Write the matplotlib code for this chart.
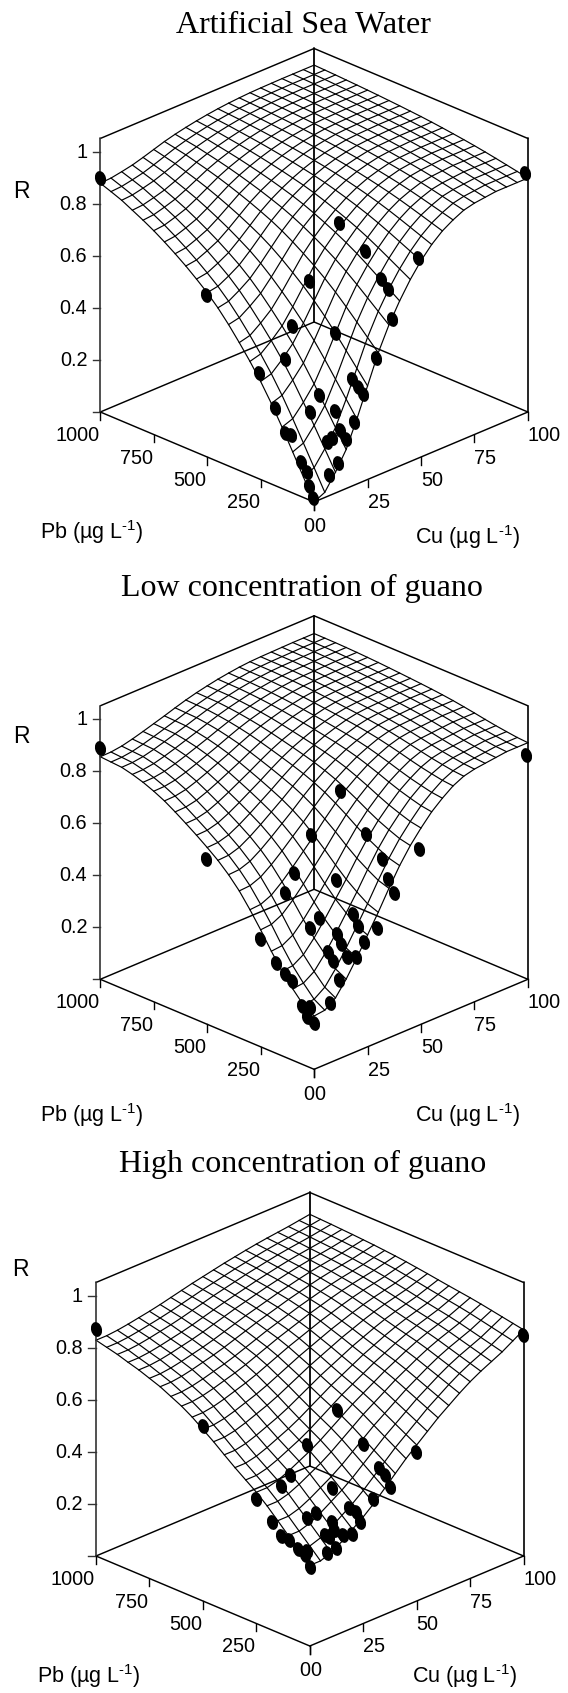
import numpy as np
import matplotlib
matplotlib.use("Agg")
import matplotlib.pyplot as plt
from matplotlib.path import Path
from matplotlib.transforms import Affine2D

plt.rcParams['font.family'] = ['Liberation Sans', 'DejaVu Sans']
plt.rcParams['mathtext.fontset'] = 'custom'
plt.rcParams['mathtext.rm'] = 'Liberation Sans'

titles = ['Artificial Sea Water', 'Low concentration of guano', 'High concentration of guano']
pb_ticks = [0, 250, 500, 750, 1000]
cu_ticks = [0, 25, 50, 75, 100]
r_ticks = [0.2, 0.4, 0.6, 0.8, 1]

# Surface edges at each of the 21 mesh lines:
# R along the Pb axis (Cu = 0) and along the Cu axis (Pb = 0)
mesh_frac = np.linspace(0, 1, 21)
pb_edge_sea = [0, .079, .158, .236, .310, .377, .437, .492, .544, .591, .632, .667, .700, .730, .758, .784, .807, .828, .849, .865, .880]
cu_edge_sea = [0, .02, .08, .15, .25, .36, .47, .56, .635, .70, .755, .80, .835, .86, .88, .89, .895, .90, .90, .90, .90]
pb_edge_low = [.205, .23, .275, .325, .385, .45, .51, .565, .61, .648, .68, .71, .738, .765, .79, .81, .827, .84, .85, .853, .856]
cu_edge_low = [.205, .21, .24, .295, .36, .43, .50, .575, .645, .705, .755, .80, .835, .865, .885, .895, .90, .905, .91, .91, .91]
pb_edge_high = [.31, .35, .39, .43, .47, .505, .535, .565, .597, .63, .66, .69, .715, .735, .755, .77, .785, .797, .81, .82, .83]
cu_edge_high = [.31, .31, .325, .35, .38, .41, .445, .485, .525, .565, .60, .635, .67, .70, .73, .757, .78, .80, .82, .845, .87]

# Measured points
pb_sea = [1000, 14, 310, 181, 12, 291, 86, 51, 505, 0, 275, 151, 245, 2, 268, 54, 29, 5, 127, 188, 125, 67, 4, 139, 128, 35, 9, 45, 53, 5, 74, 53, 10, 29, 7]
cu_sea = [0.0, 100.0, 42.7, 41.9, 49.9, 26.9, 40.0, 39.5, 0.0, 36.6, 17.3, 25.1, 10.7, 29.1, 1.2, 23.1, 23.3, 23.4, 14.8, 0.7, 10.7, 16.7, 19.2, 0.2, 2.1, 15.7, 16.0, 13.0, 11.2, 11.6, 1.5, 1.9, 8.1, 0.7, 0.0]
r_sea = [.901, .915, .819, .758, .763, .656, .688, .664, .621, .578, .523, .510, .427, .452, .401, .375, .353, .331, .316, .293, .267, .270, .240, .215, .205, .210, .182, .185, .173, .109, .122, .090, .071, .049, .012]

pb_low = [1000, 0, 311, 307, 159, 0, 69, 504, 288, 20, 176, 0, 275, 168, 76, 43, 173, 0, 252, 100, 2, 74, 97, 37, 8, 69, 178, 141, 118, 21, 2, 56, 32, 31, 0]
cu_low = [0.0, 99.1, 43.3, 29.1, 40.2, 49.2, 38.8, 0.0, 19.4, 36.6, 27.8, 37.4, 14.0, 19.2, 25.9, 25.0, 15.6, 29.2, 0.0, 20.5, 23.4, 20.0, 16.0, 19.0, 20.4, 15.7, 0.0, 0.5, 1.5, 13.6, 7.7, 0.0, 1.4, 0.0, 0.0]
r_low = [.891, .865, .813, .693, .709, .676, .651, .636, .587, .600, .571, .548, .533, .456, .480, .450, .429, .441, .413, .415, .408, .387, .364, .354, .360, .339, .346, .316, .295, .289, .227, .224, .223, .192, .177]

pb_high = [1000, 0, 277, 510, 271, 140, 0, 52, 25, 0, 237, 230, 124, 10, 250, 48, 26, 0, 108, 115, 176, 57, 133, 99, 0, 10, 39, 47, 36, 0, 6, 57, 40, 1, 32]
cu_high = [0.2, 99.5, 40.3, 1.2, 25.6, 38.7, 49.6, 37.6, 37.5, 37.6, 14.6, 9.7, 22.9, 30.6, 0.0, 23.2, 24.1, 23.7, 13.6, 10.3, 0.0, 16.2, 0.0, 0.0, 19.7, 16.5, 15.2, 11.7, 12.4, 12.2, 8.5, 0.0, 2.6, 0.0, 0.9]
r_high = [.871, .851, .672, .666, .591, .593, .576, .535, .519, .48, .524, .502, .484, .457, .48, .433, .422, .394, .426, .416, .416, .4, .377, .372, .362, .366, .38, .37, .365, .336, .325, .353, .342, .305, .336]

W, H = 568, 1693
UNIT = 213.8  # pixels from front corner to side corner
BASE = 90  # pixels the base climbs over one axis length
R_PX = 260  # pixels per R = 1
R_TOP = 1.052
PX = 0.72  # points per pixel at dpi 100
FS = 14.3

x_front = [314.1, 314.1, 309.8]
y_front = [502, 1069.3, 1646]
title_x = [303, 301.7, 302.8]
title_y = [33.3, 596, 1171.7]
r_label = [(21.6, 191.7), (21.6, 736.7), (20.5, 1270)]
pb_label = [(40, 531.7), (40, 1115), (36.7, 1676)]
cu_label = [(414.5, 537), (414.5, 1115), (412, 1676)]

pb_edges = [pb_edge_sea, pb_edge_low, pb_edge_high]
cu_edges = [cu_edge_sea, cu_edge_low, cu_edge_high]
pb_points = [pb_sea, pb_low, pb_high]
cu_points = [cu_sea, cu_low, cu_high]
r_points = [r_sea, r_low, r_high]


def project(pb, cu, r):
    pb = np.asarray(pb, float) / 1000
    cu = np.asarray(cu, float) / 100
    r = np.asarray(r, float)
    return cu - pb, ((cu + pb) * BASE + r * R_PX) / UNIT


def line3d(ax, a, b, **kw):
    lx, ly = project([a[0], b[0]], [a[1], b[1]], [a[2], b[2]])
    ax.plot(lx, ly, solid_capstyle='round', **kw)


dot = Path.unit_circle().transformed(Affine2D().scale(0.72, 1).rotate_deg(15))
fig = plt.figure(figsize=(W / 100, H / 100), dpi=100)

for i in range(3):
    half = 1.42
    top = 470
    ax = fig.add_axes([(x_front[i] - half * UNIT) / W, 1 - (y_front[i] + 20) / H,
                       2 * half * UNIT / W, (top + 20) / H])
    ax.set_xlim(-half, half)
    ax.set_ylim(-20 / UNIT, top / UNIT)
    ax.axis('off')

    # Mesh: the interior joins the two edges
    A, B = np.array(pb_edges[i]), np.array(cu_edges[i])
    Z = 1 - np.outer(1 - A, 1 - B) / (1 - A[0])
    P, C = np.meshgrid(mesh_frac * 1000, mesh_frac * 100, indexing='ij')
    X, Y = project(P, C, Z)
    ax.plot(X, Y, color='k', lw=0.85, zorder=2)
    ax.plot(X.T, Y.T, color='k', lw=0.85, zorder=2)

    # Box
    line3d(ax, (0, 0, 0), (1000, 0, 0), color='k', lw=1.05, zorder=3)
    line3d(ax, (0, 0, 0), (0, 100, 0), color='k', lw=1.05, zorder=3)
    line3d(ax, (1000, 0, 0), (1000, 100, 0), color='k', lw=1.05, zorder=3)
    line3d(ax, (0, 100, 0), (1000, 100, 0), color='k', lw=1.05, zorder=3)
    line3d(ax, (1000, 0, R_TOP), (1000, 100, R_TOP), color='k', lw=1.05, zorder=3)
    line3d(ax, (0, 100, R_TOP), (1000, 100, R_TOP), color='k', lw=1.05, zorder=3)
    line3d(ax, (1000, 0, 0), (1000, 0, R_TOP), color='#333333', lw=1.2, zorder=3)
    line3d(ax, (0, 100, 0), (0, 100, R_TOP), color='k', lw=1.2, zorder=3)
    line3d(ax, (1000, 100, 0), (1000, 100, R_TOP), color='k', lw=1.3, zorder=3)

    # Ticks and tick labels
    for v in [0] + r_ticks:
        tx, ty = project(1000, 0, v)
        ax.plot([tx, tx - 7.6 / UNIT], [ty, ty], color='#333333', lw=1, zorder=3)
        if v > 0:
            ax.annotate(f'{v:g}', (tx, ty), xytext=(-13 * PX, 0), textcoords='offset points',
                        ha='right', va='center', fontsize=FS)
    for v in pb_ticks:
        tx, ty = project(v, 0, 0)
        ax.plot([tx, tx], [ty, ty - 7.5 / UNIT], color='k', lw=1, zorder=3)
        ax.annotate(str(v), (tx, ty), xytext=((0 if v == 0 else -1) * PX, (-25 if v == 0 else -23.5) * PX),
                    textcoords='offset points', ha='right', va='center', fontsize=FS)
    for v in cu_ticks:
        tx, ty = project(0, v, 0)
        ax.plot([tx, tx], [ty, ty - 7.5 / UNIT], color='k', lw=1, zorder=3)
        ax.annotate(str(v), (tx, ty), xytext=(0, (-25 if v == 0 else -23.5) * PX),
                    textcoords='offset points', ha='left', va='center', fontsize=FS)

    # Points
    dx, dy = project(pb_points[i], cu_points[i], r_points[i])
    ax.plot(dx, dy, ls='none', marker=dot, ms=11, mfc='k', mec='k', mew=0, zorder=5)

    # Labels
    fig.text(title_x[i] / W, 1 - title_y[i] / H, titles[i], family='Liberation Serif',
             fontsize=23, ha='center', va='baseline')
    fig.text(r_label[i][0] / W, 1 - r_label[i][1] / H, 'R', fontsize=16.5, ha='center', va='center')
    fig.text(pb_label[i][0] / W, 1 - pb_label[i][1] / H, r'Pb (µg L$^{\text{-}1}$)',
             fontsize=15.5, ha='left', va='center')
    fig.text(cu_label[i][0] / W, 1 - cu_label[i][1] / H, r'Cu (µg L$^{\text{-}1}$)',
             fontsize=15.5, ha='left', va='center')

fig.savefig('out.png', dpi=100)
